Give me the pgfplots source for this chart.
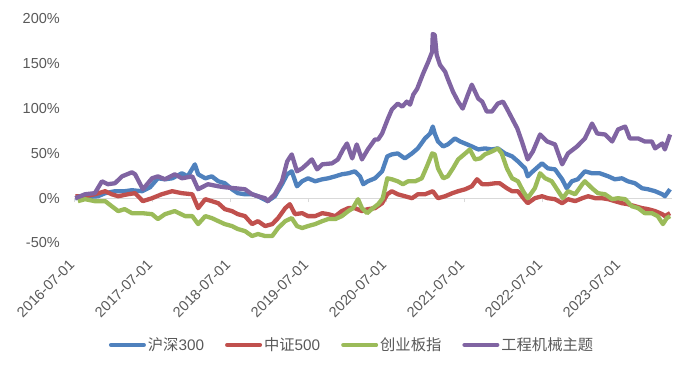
\documentclass[border=0pt]{standalone}
\usepackage{pgfplots}
\pgfplotsset{compat=1.18}
\usepackage{fontspec}
\setmainfont{Liberation Sans}
\newfontfamily\cjk{Noto Sans CJK SC}
\definecolor{txt}{HTML}{595959}
\definecolor{cblue}{HTML}{4F81BD}
\definecolor{cred}{HTML}{C0504D}
\definecolor{cgreen}{HTML}{9BBB59}
\definecolor{cpurple}{HTML}{8064A2}
\definecolor{zline}{HTML}{D9D9D9}
\begin{document}
\begin{tikzpicture}
\path[use as bounding box] (0,0) rectangle (700pt,369pt);
% zero line with small ticks
\begin{axis}[
  at={(74pt,126pt)}, anchor=south west,
  scale only axis, width=598pt, height=224pt,
  xmin=0, xmax=92, ymin=-50, ymax=200,
  axis x line*=middle, axis y line=none,
  x axis line style={-, draw=zline, line width=0.8pt},
  xtick={0,12,24,36,48,60,72,84}, xticklabels={},
  tick align=outside, major tick length=4pt,
  xtick style={draw=zline, line width=0.8pt},
  ytick=\empty,
]
\end{axis}
\begin{axis}[
  at={(74pt,126pt)}, anchor=south west,
  scale only axis, width=598pt, height=224pt,
  xmin=0, xmax=92, ymin=-50, ymax=200,
  clip=false,
  axis line style={draw=none},
  tick style={draw=none},
  xtick={0,12,24,36,48,60,72,84},
  xticklabels={2016-07-01,2017-07-01,2018-07-01,2019-07-01,2020-07-01,2021-07-01,2022-07-01,2023-07-01},
  ytick={-50,0,50,100,150,200},
  yticklabels={-50\%,0\%,50\%,100\%,150\%,200\%},
  tick label style={font=\fontsize{14.5}{17}\selectfont, text=txt},
  yticklabel style={inner sep=0pt, xshift=-14pt},
  xticklabel style={inner sep=0pt, xshift=-2pt, yshift=-19pt, rotate=45, anchor=east},
  legend columns=4,
  legend style={at={(0.465,-0.455)}, anchor=center, draw=none, fill=none,
    font=\fontsize{15.3}{18}\selectfont, text=txt,
    /tikz/every even column/.append style={column sep=19pt},
    nodes={inner sep=2pt}},
  legend image code/.code={\draw[#1, line width=4pt, line cap=round] (0pt,0pt) -- (33pt,0pt);},
  every axis plot/.append style={line width=4.3pt, line join=round},
]
\addplot[cblue] coordinates {
(0.2,0) (1.7,1.1) (3.7,2.2) (4.8,5.6) (6.3,7.8) (7.8,7.8) (8.9,8.9) (10.5,7.8) (11.7,12.2) (12.9,22.2)
(14.0,21.1) (15.1,22.2) (16.6,27.8) (17.5,24.4) (18.6,37.8) (19.1,26.7) (20.2,22.2) (21.2,24.4) (22.2,18.9) (23.2,16.7)
(24.3,10.0) (25.2,5.6) (26.3,4.4) (27.4,4.4) (28.3,2.2) (29.8,-3.3) (30.9,2.2) (32.0,15.6) (32.8,26.7) (33.5,30.0)
(34.3,13.3) (35.1,18.9) (36.0,22.2) (37.1,18.9) (38.2,21.1) (39.1,22.2) (40.2,24.4) (41.2,26.7) (42.2,27.8) (43.2,30.0)
(44.0,24.4) (44.5,15.6) (45.2,18.9) (46.3,22.2) (47.4,30.0) (48.2,46.7) (48.9,48.9) (49.8,50.0) (50.9,44.4) (52.0,50.0)
(52.9,55.6) (54.0,66.7) (54.8,72.2) (55.2,80.0) (55.5,72.2) (56.0,63.3) (56.8,57.8) (57.5,60.0) (58.6,66.7) (59.4,63.3)
(60.5,60.0) (61.2,57.8) (62.2,54.4) (63.2,55.6) (64.3,54.4) (65.2,55.6) (66.3,50.0) (67.4,46.7) (68.3,41.1) (69.4,33.3)
(69.8,24.4) (70.6,30.0) (72.0,38.9) (72.9,33.3) (74.0,32.2) (75.1,21.1) (75.8,11.1) (76.6,18.9) (77.5,21.1) (78.6,30.0)
(79.7,27.8) (80.9,27.8) (82.2,24.4) (83.2,21.1) (84.3,22.2) (85.2,18.9) (86.3,16.7) (87.4,11.1) (88.3,10.0) (89.4,7.8)
(90.5,4.4) (90.9,2.2) (91.7,10.0)
};
\addlegendentry{{\cjk 沪深}300}
\addplot[cred] coordinates {
(0.2,2.2) (1.7,2.2) (3.2,4.4) (4.8,7.8) (5.8,4.4) (6.8,2.2) (8.3,4.4) (9.4,5.6) (10.6,-3.3) (12.0,0)
(13.5,4.4) (15.1,7.8) (16.6,5.6) (18.2,4.4) (19.1,-11.1) (20.2,-1.1) (21.2,-3.3) (22.2,-5.6) (23.2,-12.2) (24.3,-14.4)
(25.2,-17.8) (26.3,-20.0) (27.4,-28.9) (28.3,-25.6) (29.4,-31.1) (30.5,-28.9) (31.4,-22.2) (32.5,-11.1) (33.2,-6.7) (34.0,-17.8)
(35.1,-16.7) (36.0,-20.0) (37.1,-20.0) (38.2,-16.7) (39.1,-17.8) (40.2,-20.0) (41.2,-14.4) (42.2,-11.1) (43.2,-11.1) (44.3,-14.4)
(45.2,-12.2) (46.3,-11.1) (47.4,-5.6) (48.2,4.4) (48.9,7.8) (49.8,4.4) (50.9,2.2) (52.0,0) (52.9,4.4) (54.0,4.4)
(55.2,7.8) (56.0,0) (57.1,2.2) (58.2,5.6) (59.1,7.8) (60.2,10.0) (61.2,13.3) (62.0,21.1) (62.8,15.6) (63.7,15.6)
(64.8,16.7) (65.5,16.7) (66.6,11.1) (67.4,7.8) (68.3,7.8) (68.9,2.2) (69.8,-5.6) (70.9,0) (72.0,2.2) (72.9,0)
(74.0,-1.1) (75.1,-5.6) (76.0,-1.1) (77.1,-3.3) (78.2,0) (79.1,2.2) (80.2,0) (81.2,0) (82.2,-1.1) (83.2,-3.3)
(84.3,-5.6) (85.2,-6.7) (86.3,-8.9) (87.4,-11.1) (88.3,-12.2) (89.4,-14.4) (90.5,-17.8) (90.9,-20.0) (91.7,-16.7)
};
\addlegendentry{{\cjk 中证}500}
\addplot[cgreen] coordinates {
(0.6,-3.3) (1.7,-1.1) (3.2,-3.3) (4.8,-3.3) (5.8,-8.9) (6.8,-14.4) (7.8,-12.2) (8.9,-16.7) (10.5,-16.7) (12.0,-17.8)
(12.9,-23.3) (14.0,-17.8) (15.5,-14.4) (17.1,-20.0) (18.2,-20.0) (19.1,-28.9) (20.2,-20.0) (21.2,-22.2) (22.2,-25.6) (23.2,-28.9)
(24.3,-31.1) (25.2,-34.4) (26.3,-36.7) (27.4,-42.2) (28.3,-40.0) (29.4,-42.2) (30.5,-42.2) (31.4,-33.3) (32.5,-25.6) (33.5,-22.2)
(34.3,-31.1) (35.1,-33.3) (36.0,-31.1) (37.1,-28.9) (38.2,-25.6) (39.1,-23.3) (40.2,-23.3) (41.2,-20.0) (42.2,-14.4) (42.9,-11.1)
(43.7,-1.1) (44.3,-11.1) (45.1,-16.7) (45.8,-12.2) (46.8,-6.7) (47.5,0) (48.2,22.2) (48.9,21.1) (49.8,18.9) (50.6,15.6)
(51.4,18.9) (52.5,18.9) (53.5,22.2) (54.3,35.6) (55.1,50.0) (55.5,48.9) (56.0,33.3) (56.8,22.2) (57.5,24.4) (58.3,33.3)
(59.1,43.3) (60.2,50.0) (60.9,54.4) (61.7,43.3) (62.5,44.4) (63.2,48.9) (64.3,52.2) (65.2,55.6) (65.8,50.0) (66.6,33.3)
(67.4,22.2) (68.3,18.9) (69.1,7.8) (69.8,0) (70.9,11.1) (71.7,27.8) (72.5,22.2) (73.5,18.9) (74.5,7.8) (75.2,0)
(76.0,7.8) (77.1,4.4) (78.2,15.6) (78.6,18.9) (79.7,11.1) (80.6,5.6) (81.7,4.4) (82.8,-1.1) (83.7,0) (84.8,-1.1)
(85.8,-8.9) (86.8,-11.1) (87.8,-16.7) (88.9,-16.7) (89.8,-20.0) (90.6,-28.9) (91.2,-22.2) (91.7,-20.0)
};
\addlegendentry{{\cjk 创业板指}}
\addplot[cpurple] coordinates {
(0.2,0) (1.7,4.4) (3.2,5.6) (4.3,18.9) (5.2,15.6) (6.3,16.7) (7.4,24.4) (8.9,28.9) (9.4,26.7) (10.6,10.0)
(12.0,22.2) (12.9,24.4) (14.0,21.1) (15.5,26.7) (16.6,22.2) (18.2,24.4) (19.1,10.0) (20.6,15.6) (22.2,13.3) (23.2,12.2)
(24.8,11.1) (26.3,10.0) (27.4,4.4) (28.3,2.2) (29.4,0) (29.8,-3.3) (30.9,4.4) (32.0,18.9) (32.8,41.1) (33.5,48.9)
(34.3,30.0) (35.1,33.3) (35.8,37.8) (36.6,43.3) (37.4,32.2) (38.2,37.8) (39.7,38.9) (40.6,43.3) (41.4,54.4) (42.0,61.1)
(42.8,44.4) (43.5,60.0) (44.3,43.3) (45.2,54.4) (46.3,65.6) (46.8,65.6) (47.4,72.2) (48.3,88.9) (48.9,98.9) (49.8,105.6)
(50.5,102.2) (51.2,107.8) (51.7,104.4) (52.2,115.6) (52.8,122.2) (53.7,138.9) (54.5,152.2) (55.1,163.3) (55.2,183.3) (55.5,182.2)
(55.8,160.0) (56.3,148.9) (57.1,141.1) (57.5,133.3) (58.3,118.9) (59.1,107.8) (59.8,100.0) (60.6,115.6) (61.2,126.7) (61.7,118.9)
(62.2,111.1) (62.8,107.8) (63.5,96.7) (64.3,96.7) (65.2,105.6) (66.0,107.8) (66.6,100.0) (67.4,88.9) (68.2,77.8) (68.9,63.3)
(69.8,43.3) (70.6,52.2) (71.7,71.1) (72.8,63.3) (74.0,60.0) (75.1,37.8) (76.0,50.0) (77.4,57.8) (78.6,66.7) (79.7,83.3)
(80.5,72.2) (81.7,71.1) (82.8,63.3) (83.7,76.7) (84.8,80.0) (85.5,66.7) (86.8,66.7) (87.8,63.3) (88.9,63.3) (89.4,55.6)
(90.5,61.1) (90.9,54.4) (91.7,71.1)
};
\addlegendentry{{\cjk 工程机械主题}}
\end{axis}
\end{tikzpicture}
\end{document}
